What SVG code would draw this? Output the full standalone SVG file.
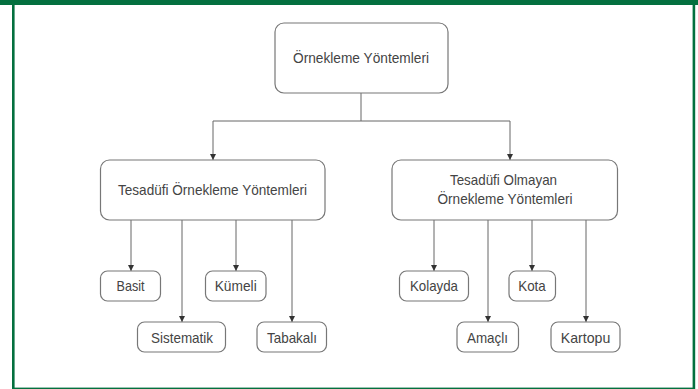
<svg xmlns="http://www.w3.org/2000/svg" width="698" height="389" viewBox="0 0 698 389">
<defs>
<marker id="arr" viewBox="0 0 10 10" refX="10" refY="5" markerWidth="6" markerHeight="6" markerUnits="userSpaceOnUse" orient="auto">
<path d="M0,0 L10,5 L0,10 z" fill="#333"/>
</marker>
<style>
.box{fill:#fff;stroke:#777;stroke-width:1.2}
.t{font-family:"Liberation Sans",Arial,sans-serif;font-size:15px;fill:#444;text-anchor:middle}
.c{fill:none;stroke:#666;stroke-width:1}
.ca{fill:none;stroke:#666;stroke-width:1;marker-end:url(#arr)}
</style>
</defs>
<rect width="698" height="389" fill="#fff"/>
<g id="frame">
<rect x="0" y="0" width="698" height="5" fill="#04703f"/>
<rect x="12" y="0" width="2.6" height="389" fill="#04703f"/>
<rect x="692.6" y="0" width="2.6" height="389" fill="#04703f"/>
<rect x="12" y="387.6" width="683" height="1.4" fill="#04703f"/>
</g>
<g id="connectors">
<path class="c" d="M361,93 V121 M213,121 H510"/>
<path class="ca" d="M213,121 V160"/>
<path class="ca" d="M510,121 V160"/>
<path class="ca" d="M131,220 V271"/>
<path class="ca" d="M182,220 V322"/>
<path class="ca" d="M236,220 V271"/>
<path class="ca" d="M292,220 V322"/>
<path class="ca" d="M434,220 V271"/>
<path class="ca" d="M488,220 V322"/>
<path class="ca" d="M532,220 V271"/>
<path class="ca" d="M586,220 V322"/>
</g>
<g id="root">
<rect class="box" x="275" y="23" width="173" height="70" rx="9"/>
<text class="t" x="361" y="62.5" textLength="136" lengthAdjust="spacingAndGlyphs">Örnekleme Yöntemleri</text>
</g>
<g id="tesadufi">
<rect class="box" x="100.5" y="160" width="224.5" height="60" rx="9"/>
<text class="t" x="212.5" y="195" textLength="189" lengthAdjust="spacingAndGlyphs">Tesadüfi Örnekleme Yöntemleri</text>
</g>
<g id="tesadufi-olmayan">
<rect class="box" x="392" y="160" width="225.5" height="60" rx="9"/>
<text class="t" x="503.5" y="185" textLength="107" lengthAdjust="spacingAndGlyphs">Tesadüfi Olmayan</text>
<text class="t" x="505" y="203.5" textLength="135" lengthAdjust="spacingAndGlyphs">Örnekleme Yöntemleri</text>
</g>
<g id="basit">
<rect class="box" x="100.5" y="271" width="60" height="30" rx="7"/>
<text class="t" x="130.5" y="291" textLength="28" lengthAdjust="spacingAndGlyphs">Basit</text>
</g>
<g id="kumeli">
<rect class="box" x="205.5" y="271" width="60.5" height="30" rx="7"/>
<text class="t" x="235.7" y="291" textLength="42" lengthAdjust="spacingAndGlyphs">Kümeli</text>
</g>
<g id="sistematik">
<rect class="box" x="137.5" y="322" width="88" height="30" rx="7"/>
<text class="t" x="182" y="342.5" textLength="62" lengthAdjust="spacingAndGlyphs">Sistematik</text>
</g>
<g id="tabakali">
<rect class="box" x="257" y="322" width="69.5" height="30" rx="7"/>
<text class="t" x="292" y="342.5" textLength="50" lengthAdjust="spacingAndGlyphs">Tabakalı</text>
</g>
<g id="kolayda">
<rect class="box" x="399.5" y="271" width="69" height="30" rx="7"/>
<text class="t" x="434" y="291" textLength="48" lengthAdjust="spacingAndGlyphs">Kolayda</text>
</g>
<g id="kota">
<rect class="box" x="509" y="271" width="46.5" height="30" rx="7"/>
<text class="t" x="532" y="291" textLength="27.5" lengthAdjust="spacingAndGlyphs">Kota</text>
</g>
<g id="amacli">
<rect class="box" x="457" y="322" width="61.5" height="30" rx="7"/>
<text class="t" x="487.5" y="342.5" textLength="41" lengthAdjust="spacingAndGlyphs">Amaçlı</text>
</g>
<g id="kartopu">
<rect class="box" x="551" y="322" width="69" height="30" rx="7"/>
<text class="t" x="585.5" y="342.5" textLength="49.5" lengthAdjust="spacingAndGlyphs">Kartopu</text>
</g>
</svg>
